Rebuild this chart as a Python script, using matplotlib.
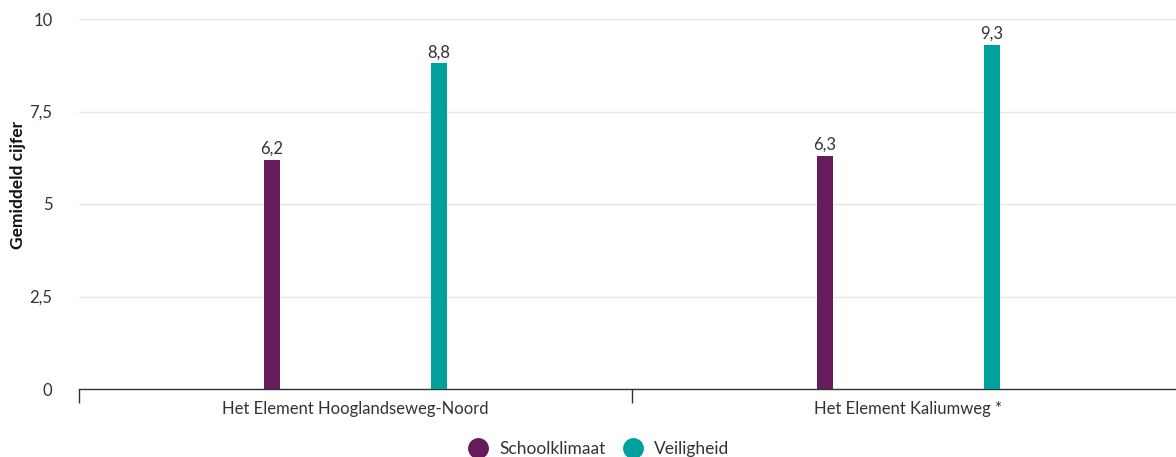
import numpy as np
import matplotlib.pyplot as plt

# ── Data ──────────────────────────────────────────────────────────────────────
schools = ["Het Element Hooglandseweg-Noord", "Het Element Kaliumweg *"]
series = ["Schoolklimaat", "Veiligheid"]
schoolklimaat = [6.2, 6.3]
veiligheid = [8.8, 9.3]
y_ticks = [0, 2.5, 5, 7.5, 10]

COLORS = {"Schoolklimaat": "#661c5b", "Veiligheid": "#00a19a"}
TXT = "#333333"

plt.rcParams["font.family"] = ["Lato", "DejaVu Sans"]

fig = plt.figure(figsize=(11.76, 4.57), dpi=100)
# axes runs a little past the right edge, as in the reference
ax = fig.add_axes([79 / 1176, 68 / 457, 1106 / 1176, 370 / 457])

x = np.arange(len(schools))
offset = 0.151
width = 0.028
for vals, name, dx in [(schoolklimaat, "Schoolklimaat", -offset),
                       (veiligheid, "Veiligheid", offset)]:
    bars = ax.bar(x + dx, vals, width=width, color=COLORS[name], zorder=3)
    for b, v in zip(bars, vals):
        ax.text(b.get_x() + b.get_width() / 2, v + 0.08,
                f"{v:.1f}".replace(".", ","), ha="center", va="bottom",
                fontsize=12, color=TXT)

ax.set_xlim(-0.5, len(schools) - 0.5)
ax.set_ylim(0, 10)
ax.set_yticks(y_ticks)
ax.set_yticklabels([f"{t:g}".replace(".", ",") for t in y_ticks],
                   fontsize=12, color=TXT)
ax.tick_params(axis="y", length=0, pad=19)
ax.grid(axis="y", color="#e6e6e6", lw=1, zorder=0)

# category boundary ticks on the x axis
ax.set_xticks(np.arange(-0.5, len(schools), 1.0))
ax.set_xticklabels([])
ax.tick_params(axis="x", length=10, width=1, color="#333333", direction="out")
for xi, s in zip(x, schools):
    ax.text(xi, -0.33, s, ha="center", va="top", fontsize=12, color=TXT,
            transform=ax.transData)

for side in ["left", "right", "top"]:
    ax.spines[side].set_visible(False)
ax.spines["bottom"].set_color("#333333")
ax.spines["bottom"].set_linewidth(1)

fig.text(18 / 1176, 1 - 185 / 457, "Gemiddeld cijfer", rotation=90,
         ha="center", va="center", fontsize=12.5, fontweight="bold",
         color="#111111")

# legend
handles = [plt.Line2D([], [], marker="o", ls="", ms=14, color=COLORS[s])
           for s in series]
fig.legend(handles, series, loc="center", bbox_to_anchor=(595 / 1176, 1 - 449 / 457),
           ncol=2, frameon=False, fontsize=12.5, handletextpad=0.2,
           columnspacing=0.6, labelcolor=TXT)

fig.savefig("out.png", dpi=100)
